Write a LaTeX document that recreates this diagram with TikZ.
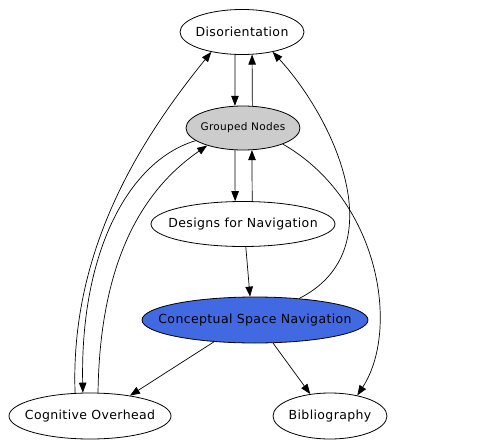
\documentclass[tikz,border=0pt]{standalone}
\usepackage{fontspec}
\setmainfont{DejaVu Sans}[LetterSpace=3]
\usetikzlibrary{shapes.geometric,arrows.meta}
\definecolor{grpgray}{HTML}{CCCCCC}
\definecolor{navblue}{HTML}{4169E1}
\newcommand{\nlabel}[1]{\makebox[0pt]{#1}}
\begin{document}
\begin{tikzpicture}[x=1pt,y=-1pt,
  gnode/.style={draw=black,line width=0.8pt,ellipse,inner sep=0pt,font=\fontsize{12.5}{14}\selectfont},
  edge/.style={line width=0.7pt,-{Triangle[length=10pt,width=7.5pt]}}]
\useasboundingbox (0,0) rectangle (477,447);
\node[gnode,minimum width=124pt,minimum height=45pt] (dis) at (242,32) {\nlabel{Disorientation}};
\node[gnode,fill=grpgray,minimum width=114pt,minimum height=44pt,font=\fontsize{10.5}{12}\selectfont] (grp) at (243,128) {\nlabel{Grouped Nodes}};
\node[gnode,minimum width=184pt,minimum height=45pt] (des) at (243,224) {\nlabel{Designs for Navigation}};
\node[gnode,fill=navblue,minimum width=226pt,minimum height=46pt] (csn) at (255,320) {\nlabel{Conceptual Space Navigation}};
\node[gnode,minimum width=162pt,minimum height=46pt] (cog) at (90,416) {\nlabel{Cognitive Overhead}};
\node[gnode,minimum width=114pt,minimum height=46pt] (bib) at (330,416) {\nlabel{Bibliography}};

\draw[edge] (dis.253) -- (grp.110);
\draw[edge] (grp.67.5) -- (dis.294);
\draw[edge] (grp.250) -- (des.109.6);
\draw[edge] (des.68) -- (grp.292.5);
\draw[edge] (des.277.6) -- (csn.102);
\draw[edge] (cog.123.6) .. controls (70,250) and (140,140) .. (dis.213);
\draw[edge] (grp.195.8) .. controls (130,160) and (80,250) .. (cog.107);
\draw[edge] (cog.71) .. controls (100,250) and (150,185) .. (grp.206.4);
\draw[edge] (csn.26.3) .. controls (395,250) and (335,120) .. (dis.327);
\draw[edge] (grp.338.6) .. controls (380,200) and (400,330) .. (bib.37);
\draw[edge] (csn.208.3) -- (cog.27.4);
\draw[edge] (csn.308.4) -- (bib.132.9);
\end{tikzpicture}
\end{document}
